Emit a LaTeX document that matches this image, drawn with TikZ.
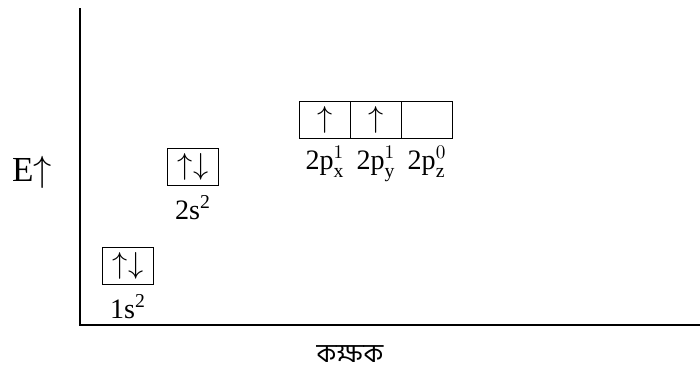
\documentclass[tikz,border=0pt]{standalone}
\usepackage{fontspec}
\setmainfont{Liberation Serif}
\newfontfamily\bengalifont[Script=Bengali]{Hind Siliguri}
\usetikzlibrary{positioning}

\begin{document}
\begin{tikzpicture}[
    x=0.02cm, y=-0.02cm,
    orb/.style={
        draw,
        line width=0.8pt,
        minimum width=1.02cm,
        minimum height=0.74cm,
        inner sep=0pt,
        outer sep=0pt,
        font=\fontsize{18}{18}\selectfont
    },
    lbl/.style={
        font=\fontsize{16}{18}\selectfont,
        inner sep=0pt
    },
    axis/.style={
        line width=1.1pt
    }
]

\useasboundingbox (0,0) rectangle (700,376);

% axes
\coordinate (origin) at (80,325);
\coordinate (ytop) at (80,8);
\coordinate (xend) at (700,325);
\draw[axis] (ytop) -- (origin) -- (xend);

\node[font=\fontsize{20}{22}\selectfont] (energy) at (32,172) {E$\uparrow$};
\node[font=\fontsize{15}{17}\selectfont] (orbit) at (350,354) {\bengalifont কক্ষক};

% 1s
\node[orb] (s1) at (128,266) {$\uparrow\downarrow$};
\node[lbl, below=0.2cm of s1] (s1lbl) {1s\textsuperscript{2}};

% 2s
\node[orb] (s2) at (193,167) {$\uparrow\downarrow$};
\node[lbl, below=0.2cm of s2] (s2lbl) {2s\textsuperscript{2}};

% 2p
\node[orb] (px) at (325,120) {$\uparrow$};
\node[orb, right=0pt of px] (py) {$\uparrow$};
\node[orb, right=0pt of py] (pz) {};
\node[lbl, below=0.15cm of px] (pxlbl) {2p$^{1}_{\mathrm{x}}$};
\node[lbl, below=0.15cm of py] (pylbl) {2p$^{1}_{\mathrm{y}}$};
\node[lbl, below=0.15cm of pz] (pzlbl) {2p$^{0}_{\mathrm{z}}$};

\end{tikzpicture}
\end{document}
